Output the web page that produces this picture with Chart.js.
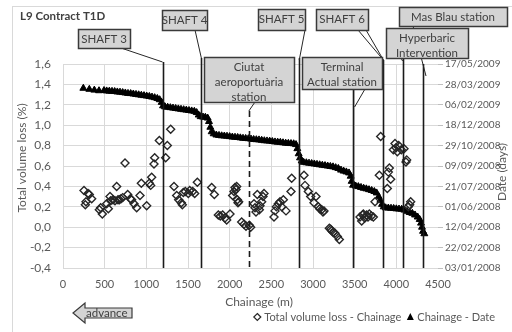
<!DOCTYPE html>
<html>
<head>
<meta charset="utf-8">
<script src="https://cdn.jsdelivr.net/npm/chart.js@4.4.1/dist/chart.umd.min.js"></script>
<style>
  html, body { margin: 0; padding: 0; background: #ffffff; }
  #wrap { width: 512px; height: 332px; position: relative; }
</style>
</head>
<body>
<div id="wrap"><canvas id="c" width="512" height="332"></canvas></div>
<script>
// Total volume loss (%) measured along the tunnel, [chainage m, loss %]
const volumeLoss = [
  [252,0.36],[268,0.22],[276,0.25],[300,0.33],[316,0.32],[344,0.28],[436,0.17],[452,0.19],[472,0.13],
  [524,0.23],[544,0.18],[564,0.30],[572,0.26],[600,0.27],[624,0.26],[644,0.40],[660,0.27],[676,0.27],
  [696,0.28],[716,0.29],[744,0.63],[776,0.32],[808,0.28],[824,0.27],[852,0.23],[884,0.19],[924,0.31],
  [940,0.43],[1004,0.21],[1036,0.43],[1052,0.41],[1064,0.49],[1092,0.62],[1100,0.68],[1156,0.85],
  [1232,0.68],[1252,0.80],[1292,0.96],[1332,0.40],[1364,0.31],[1388,0.27],[1420,0.24],[1432,0.22],
  [1444,0.34],[1468,0.35],[1504,0.33],[1520,0.36],[1556,0.35],[1580,0.33],[1612,0.44],[1784,0.39],
  [1816,0.32],[1864,0.12],[1888,0.11],[1916,0.12],[1944,0.09],[1964,0.07],[2004,0.13],[2036,0.31],
  [2052,0.35],[2064,0.39],[2076,0.37],[2084,0.40],[2092,0.27],[2100,0.24],[2108,0.25],[2144,0.05],
  [2172,0.03],[2196,0.01],[2236,0.02],[2252,0.00],[2292,0.23],[2304,0.19],[2316,0.15],[2332,0.32],
  [2356,0.17],[2364,0.21],[2384,0.25],[2400,0.30],[2412,0.33],[2532,0.10],[2544,0.16],[2560,0.20],
  [2584,0.23],[2604,0.25],[2624,0.20],[2644,0.27],[2676,0.16],[2736,0.35],[2744,0.48],[2892,0.51],
  [2904,0.41],[2944,0.35],[2972,0.30],[3012,0.24],[3036,0.30],[3064,0.20],[3080,0.18],[3104,0.17],
  [3120,0.15],[3132,0.16],[3196,-0.01],[3212,-0.02],[3224,-0.035],[3240,-0.05],[3264,-0.06],
  [3292,-0.09],[3316,-0.12],[3564,0.10],[3584,0.06],[3596,0.12],[3604,0.13],[3620,0.09],[3644,0.12],
  [3660,0.10],[3676,0.13],[3700,0.11],[3724,0.10],[3744,0.25],[3796,0.51],[3812,0.89],[3892,0.38],
  [3904,0.54],[3916,0.58],[3932,0.47],[3964,0.76],[3984,0.82],[3996,0.78],[4012,0.74],[4028,0.80],
  [4060,0.76],[4092,0.77],[4116,0.64],[4124,0.66],[4144,0.20],[4160,0.22],[4172,0.25]
];

// TBM position by date, [chainage m, days after 03/01/2008]
const advanceByDate = [
  [244,440.5],[316,438],[376,436],[432,434.5],[492,435],[524,434],[556,433.5],[588,433],[620,432.5],
  [652,431.5],[684,431],[716,430],[748,429],[780,428],[812,427.5],[844,426.5],[876,425.5],[908,424.5],
  [940,423.5],[972,422.5],[1004,421.5],[1036,420.5],[1068,419],[1100,417.5],[1132,415.5],[1160,412.5],
  [1184,406],[1200,397.5],[1224,395],[1256,394],[1288,393],[1320,392],[1352,391],[1384,390],
  [1416,389],[1448,388],[1480,387],[1512,386],[1544,385],[1576,384],[1604,381],[1628,375],[1652,371],
  [1680,370],[1708,369.5],[1736,367.5],[1752,359],[1768,345],[1784,334],[1808,329],[1840,326],
  [1872,325],[1904,324],[1936,323.5],[1968,323],[2000,322],[2032,321],[2064,320.5],[2096,320],
  [2128,319],[2160,318],[2192,317.5],[2224,317],[2256,316],[2288,315],[2320,314.5],[2352,314],
  [2384,313],[2416,312],[2448,311.5],[2480,311],[2512,310],[2544,309],[2576,308.5],[2608,308],
  [2640,307],[2672,306],[2704,305.5],[2736,305],[2768,304.5],[2796,302.5],[2812,292.5],[2828,280],
  [2844,270],[2864,262.5],[2888,259],[2920,258],[2952,257],[2984,256],[3016,255],[3048,254],
  [3080,253],[3112,252],[3144,251],[3176,250],[3208,249],[3240,248],[3272,246],[3304,244],[3336,240],
  [3368,237.5],[3400,235.5],[3432,233],[3452,225],[3464,212.5],[3480,203],[3512,201],[3544,199.5],
  [3576,197.5],[3608,195.5],[3640,194],[3672,192],[3704,190],[3736,187.5],[3764,184],[3788,175],
  [3808,166],[3828,156],[3848,150],[3872,147.5],[3904,147],[3936,146.5],[3968,146],[4000,145],
  [4032,144.5],[4064,144],[4096,142],[4128,139],[4160,136],[4192,134],[4224,130],[4256,125],
  [4280,119],[4296,110],[4308,100],[4320,90],[4336,84]
];

// Structures along the line and their chainage (m)
const structureNames = ['SHAFT 3', 'SHAFT 4', 'Ciutat aeroportuària station', 'SHAFT 5',
  'Terminal Actual station', 'SHAFT 6', 'Hyperbaric Intervention', 'Mas Blau station'];
const structureChainage = [1195, 1660, 2230, 2835, 3475, 3845, 4075, 4320];

const dateOrigin = Date.UTC(2008, 0, 3);
const FONT = 'Lato, "Open Sans", sans-serif';
const TEXT = '#595959';

function fmtDate(days) {
  const d = new Date(dateOrigin + Math.round(days) * 86400000);
  const p = n => String(n).padStart(2, '0');
  return p(d.getUTCDate()) + '/' + p(d.getUTCMonth() + 1) + '/' + d.getUTCFullYear();
}

// Callout boxes: text lines, box [left, top, w, h], leader start, leader end height, structure index
const callouts = [
  { lines: ['SHAFT 3'], box: [78, 29, 52, 19], from: [[121, 48]], toY: 62, s: 0 },
  { lines: ['SHAFT 4'], box: [162, 10, 45, 20], from: [[195, 30]], toY: 58, s: 1 },
  { lines: ['SHAFT 5'], box: [258, 9, 47, 21], from: [[305, 30]], toY: 60, s: 3 },
  { lines: ['SHAFT 6'], box: [316, 9, 52, 21], from: [[358, 30], [366, 30]], toY: 60, s: 5 },
  { lines: ['Terminal', 'Actual station'], box: [302, 57, 80, 32], from: [[365, 89]], toY: 107, s: 4, dx: 2 },
  { lines: ['Mas Blau station'], box: [399, 7, 108, 19], from: [[413, 26]], toY: 76, s: 7, dx: 3 },
  { lines: ['Hyperbaric', 'Intervention'], box: [386, 28, 82, 30], from: [[401, 58]], toY: 61, s: 6 },
  { lines: ['Ciutat', 'aeroportuària', 'station'], box: [204, 57, 90, 45], from: [[255, 102]], toY: 111, s: 2 }
];
const structureTop = [62, 58, 111, 58, 89, 60, 59, 64];
const structureDashed = [false, false, true, false, false, false, false, false];

const overlay = {
  id: 'overlay',
  afterDatasetsDraw(chart) {
    const { ctx, chartArea: a, scales: { x } } = chart;
    ctx.save();
    structureChainage.forEach((c, i) => {
      const px = Math.round(x.getPixelForValue(c)) + 0.5;
      ctx.strokeStyle = '#1a1a1a';
      ctx.lineWidth = 1.6;
      ctx.setLineDash(structureDashed[i] ? [6, 4] : []);
      ctx.beginPath();
      ctx.moveTo(px, structureTop[i]);
      ctx.lineTo(px, a.bottom);
      ctx.stroke();
    });
    ctx.restore();
  },
  afterDraw(chart) {
    const { ctx, scales: { x } } = chart;
    ctx.save();
    // outer frame
    ctx.strokeStyle = '#d9d9d9';
    ctx.lineWidth = 1;
    ctx.strokeRect(12.5, 6.5, 520, 340);

    // callouts
    callouts.forEach(co => {
      const tx = x.getPixelForValue(structureChainage[co.s]) + (co.dx || 0);
      ctx.strokeStyle = '#262626';
      ctx.lineWidth = 1;
      ctx.setLineDash([]);
      co.from.forEach(f => {
        ctx.beginPath();
        ctx.moveTo(f[0], f[1]);
        ctx.lineTo(tx, co.toY);
        ctx.stroke();
      });
      const [l, t, w, h] = co.box;
      ctx.fillStyle = '#d4d4d4';
      ctx.fillRect(l, t, w, h);
      ctx.lineWidth = 1.5;
      ctx.strokeStyle = '#3a3a3a';
      ctx.strokeRect(l + 0.5, t + 0.5, w, h);
      ctx.fillStyle = '#404040';
      ctx.font = '11.5px ' + FONT;
      ctx.textAlign = 'center';
      ctx.textBaseline = 'middle';
      const lh = 15;
      const y0 = t + 10.5;
      co.lines.forEach((s, k) => ctx.fillText(s, l + w / 2, y0 + k * lh));
    });

    // chart title
    ctx.fillStyle = '#404040';
    ctx.font = 'bold 11.5px ' + FONT;
    ctx.textAlign = 'left';
    ctx.textBaseline = 'middle';
    ctx.fillText('L9 Contract T1D', 20, 16);

    // axis titles
    ctx.fillStyle = TEXT;
    ctx.font = '12px ' + FONT;
    ctx.textAlign = 'center';
    ctx.fillText('Chainage (m)', 259, 302);
    ctx.save();
    ctx.translate(22, 158);
    ctx.rotate(-Math.PI / 2);
    ctx.fillText('Total volume loss (%)', 0, 0);
    ctx.restore();
    ctx.save();
    ctx.translate(502, 172);
    ctx.rotate(-Math.PI / 2);
    ctx.fillText('Date (days)', 0, 0);
    ctx.restore();

    // advance arrow
    ctx.beginPath();
    ctx.moveTo(73, 313);
    ctx.lineTo(85, 303);
    ctx.lineTo(85, 308);
    ctx.lineTo(132, 308);
    ctx.lineTo(132, 318);
    ctx.lineTo(85, 318);
    ctx.lineTo(85, 323);
    ctx.closePath();
    ctx.fillStyle = '#d4d4d4';
    ctx.fill();
    ctx.strokeStyle = '#3a3a3a';
    ctx.lineWidth = 1.2;
    ctx.stroke();
    ctx.fillStyle = '#404040';
    ctx.font = '11.5px ' + FONT;
    ctx.textAlign = 'left';
    ctx.fillText('advance', 86, 313);

    // legend
    const ds = chart.data.datasets;
    const ly = 317;
    ctx.font = '11px ' + FONT;
    ctx.fillStyle = TEXT;
    ctx.textAlign = 'left';
    const t1 = ds[0].label, t2 = ds[1].label;
    const w2 = ctx.measureText(t2).width;
    const x2text = 495 - w2;
    const x2mark = x2text - 7;
    const w1 = ctx.measureText(t1).width;
    const x1text = x2mark - 9 - w1;
    const x1mark = x1text - 7;
    ctx.strokeStyle = '#262626';
    ctx.lineWidth = 1.2;
    ctx.beginPath();
    ctx.moveTo(x1mark, ly - 3.5);
    ctx.lineTo(x1mark + 3.5, ly);
    ctx.lineTo(x1mark, ly + 3.5);
    ctx.lineTo(x1mark - 3.5, ly);
    ctx.closePath();
    ctx.stroke();
    ctx.fillText(t1, x1text, ly);
    ctx.fillStyle = '#000';
    ctx.beginPath();
    ctx.moveTo(x2mark, ly - 4);
    ctx.lineTo(x2mark + 3.5, ly + 3);
    ctx.lineTo(x2mark - 3.5, ly + 3);
    ctx.closePath();
    ctx.fill();
    ctx.fillStyle = TEXT;
    ctx.fillText(t2, x2text, ly);
    ctx.restore();
  }
};

const gridColor = '#d9d9d9';

new Chart(document.getElementById('c'), {
  type: 'scatter',
  data: {
    datasets: [
      {
        label: 'Total volume loss - Chainage',
        data: volumeLoss.map(p => ({ x: p[0], y: p[1] })),
        yAxisID: 'y',
        pointStyle: 'rectRot',
        pointRadius: 4,
        borderColor: '#262626',
        backgroundColor: 'rgba(255,255,255,0)',
        pointBorderWidth: 1.4
      },
      {
        label: 'Chainage - Date',
        data: advanceByDate.map(p => ({ x: p[0], y: p[1] })),
        yAxisID: 'y2',
        pointStyle: 'triangle',
        pointRadius: 4,
        borderColor: '#000000',
        backgroundColor: '#000000',
        pointBorderWidth: 1
      }
    ]
  },
  options: {
    responsive: false,
    animation: false,
    devicePixelRatio: 1,
    layout: { padding: { left: 0, right: 0, top: 64, bottom: 0 } },
    plugins: { legend: { display: false }, tooltip: { enabled: false } },
    scales: {
      x: {
        type: 'linear',
        min: 0, max: 4500,
        afterFit: s => { s.height = 64; },
        border: { display: false },
        grid: {
          color: c => (c.tick && c.tick.value === 4500 ? 'rgba(0,0,0,0)' : gridColor),
          drawTicks: false
        },
        ticks: {
          stepSize: 500, padding: 10, color: TEXT, font: { family: FONT, size: 11 },
          callback: v => String(v)
        }
      },
      y: {
        position: 'left',
        min: -0.4, max: 1.6,
        afterFit: s => { s.width = 63; },
        border: { display: false },
        grid: { color: gridColor, drawTicks: false },
        ticks: {
          stepSize: 0.2, padding: 12, color: TEXT, font: { family: FONT, size: 12 },
          callback: v => (Math.abs(v) < 1e-9 ? 0 : v).toFixed(1).replace('.', ',')
        }
      },
      y2: {
        position: 'right',
        min: 0, max: 500,
        afterFit: s => { s.width = 74; },
        border: { display: false },
        grid: { drawOnChartArea: false, color: '#bfbfbf', tickLength: 5 },
        ticks: {
          stepSize: 50, padding: 2, color: TEXT, font: { family: FONT, size: 10 },
          callback: v => fmtDate(v)
        }
      }
    }
  },
  plugins: [overlay]
});
</script>
</body>
</html>
